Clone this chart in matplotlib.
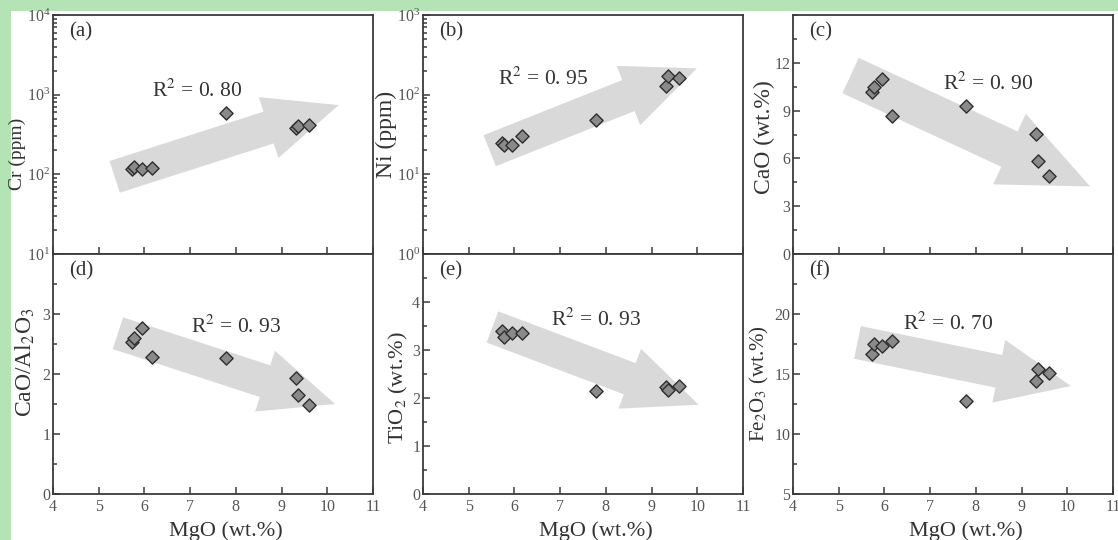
import matplotlib.pyplot as plt
from matplotlib.patches import Rectangle, FancyArrowPatch, ArrowStyle
from matplotlib.ticker import MultipleLocator, FixedLocator, LogLocator, LogFormatterMathtext, NullFormatter

plt.rcParams['font.family'] = ['Liberation Serif', 'DejaVu Serif']
plt.rcParams['mathtext.fontset'] = 'stix'

# MgO (wt.%) of the eight samples
mgo = [5.72, 5.78, 5.95, 6.17, 7.79, 9.31, 9.37, 9.61]

cr = [117, 125, 115, 119, 583, 385, 404, 416]
ni = [24.5, 23.5, 23.3, 30.6, 48, 128, 173, 163]
cao = [10.17, 10.51, 11.01, 8.64, 9.31, 7.55, 5.83, 4.87]
cao_al2o3 = [2.54, 2.60, 2.76, 2.28, 2.27, 1.93, 1.65, 1.48]
tio2 = [3.39, 3.28, 3.36, 3.36, 2.14, 2.22, 2.16, 2.25]
fe2o3 = [16.70, 17.51, 17.35, 17.79, 12.71, 14.39, 15.45, 15.11]

r2_labels = ['0. 80', '0. 95', '0. 90', '0. 93', '0. 93', '0. 70']
panel_tags = ['(a)', '(b)', '(c)', '(d)', '(e)', '(f)']
ylabels = ['Cr (ppm)', 'Ni (ppm)', 'CaO (wt.%)',
           'CaO/Al$_2$O$_3$', 'TiO$_2$ (wt.%)', 'Fe$_2$O$_3$ (wt.%)']

# labelled y ticks for the linear panels (top value left unlabelled like the original)
cao_ticks = [0, 3, 6, 9, 12]
ratio_ticks = [0, 1, 2, 3]
tio2_ticks = [0, 1, 2, 3, 4]
fe2o3_ticks = [5, 10, 15, 20]

# trend arrows (tail, head) in data units
trend_arrows = [
    ((5.35, 93), (10.25, 740)),
    ((5.46, 19.8), (9.99, 214)),
    ((5.26, 11.2), (10.50, 4.24)),
    ((5.42, 2.68), (10.17, 1.50)),
    ((5.52, 3.48), (10.03, 1.86)),
    ((5.41, 17.63), (10.08, 14.0)),
]

series = [cr, ni, cao, cao_al2o3, tio2, fe2o3]

W, H = 1118, 540
fig = plt.figure(figsize=(W / 100, H / 100), dpi=100, facecolor='#b4e4b6')
fig.patches.append(Rectangle((11 / W, 0), 1 - 11 / W, 1 - 11 / H, transform=fig.transFigure,
                             facecolor='white', edgecolor='none', zorder=-10))

col_left = [53, 423, 793]
row_top = [15, 254]
row_h = [239, 240]
ax_w = 320

# per panel: ylim, labelled ticks, minor step, log?
yset = [
    ((10, 1e4), None, None, True),
    ((1, 1e3), None, None, True),
    ((0, 15), cao_ticks, 1.5, False),
    ((0, 4), ratio_ticks, 0.5, False),
    ((0, 5), tio2_ticks, 0.5, False),
    ((5, 25), fe2o3_ticks, 2.5, False),
]
r2_pos = [(0.31, 0.657), (0.235, 0.707), (0.47, 0.686), (0.43, 0.67), (0.40, 0.70), (0.345, 0.683)]
ylab_pos = [(-0.085, 0.42), (-0.08, 0.50), (-0.055, 0.49), (-0.05, 0.55), (-0.04, 0.445), (-0.07, 0.46)]
ylab_size = [14, 17, 17, 17, 16, 15]
arrow_size = [(53, 46, 24), (53, 46, 24), (64, 56, 28), (53, 46, 24), (53, 46, 24), (53, 46, 24)]

txt = '#333333'
tick_c = '#555555'

for i in range(6):
    r, c = divmod(i, 3)
    left = col_left[c] / W
    bottom = (H - row_top[r] - row_h[r]) / H
    ax = fig.add_axes([left, bottom, ax_w / W, row_h[r] / H])
    ylim, ticks, minor, is_log = yset[i]

    (x0, y0), (x1, y1) = trend_arrows[i]
    hl, hw, tw = arrow_size[i]
    arr = FancyArrowPatch((x0, y0), (x1, y1),
                          arrowstyle=ArrowStyle.Simple(head_length=hl, head_width=hw, tail_width=tw),
                          mutation_scale=1, shrinkA=0, shrinkB=0,
                          facecolor='#d9d9d9', edgecolor='none', zorder=1)
    ax.add_patch(arr)

    ax.scatter(mgo, series[i], marker='D', s=45, facecolor='#8a8a8a',
               edgecolor='#2e2e2e', linewidth=1.0, zorder=3)

    ax.set_xlim(4, 11)
    ax.xaxis.set_major_locator(MultipleLocator(1))
    if is_log:
        ax.set_yscale('log')
        ax.yaxis.set_major_locator(LogLocator(base=10))
        ax.yaxis.set_minor_locator(LogLocator(base=10, subs=range(2, 10)))
        ax.yaxis.set_major_formatter(LogFormatterMathtext())
        ax.yaxis.set_minor_formatter(NullFormatter())
    else:
        ax.yaxis.set_major_locator(FixedLocator(ticks))
        ax.yaxis.set_minor_locator(MultipleLocator(minor))
    ax.set_ylim(*ylim)

    for sp in ax.spines.values():
        sp.set_color('#3a3a3a')
        sp.set_linewidth(1.3)
    ax.tick_params(which='both', direction='in', top=False, right=False,
                   color='#3a3a3a', labelcolor=tick_c, labelsize=11.5, width=1.1)
    ax.tick_params(which='major', length=5)
    ax.tick_params(which='minor', length=3)
    ax.tick_params(axis='y', pad=2)
    if r == 0:
        ax.tick_params(axis='x', labelbottom=False)
    else:
        ax.set_xlabel('MgO (wt.%)', fontsize=16, color=txt)
        ax.xaxis.set_label_coords(0.54, -0.115)

    ax.set_ylabel(ylabels[i], fontsize=ylab_size[i], color=txt)
    ax.yaxis.set_label_coords(*ylab_pos[i])

    ax.text(0.05, 0.91, panel_tags[i], transform=ax.transAxes, fontsize=15,
            color=txt, va='baseline', ha='left')
    ax.text(r2_pos[i][0], r2_pos[i][1], 'R$^2$ = ' + r2_labels[i], transform=ax.transAxes,
            fontsize=15.5, color=txt, va='baseline', ha='left')

fig.savefig('out.png', dpi=100, facecolor=fig.get_facecolor())
